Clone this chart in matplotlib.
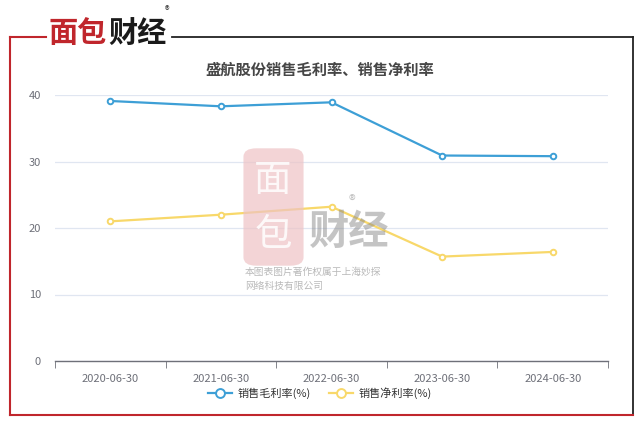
import matplotlib

matplotlib.use("Agg")
import matplotlib.pyplot as plt
from matplotlib.lines import Line2D
from matplotlib.patches import FancyBboxPatch

plt.rcParams["font.family"] = ["Noto Sans CJK SC", "DejaVu Sans"]

TITLE = "盛航股份销售毛利率、销售净利率"
DATES = ["2020-06-30", "2021-06-30", "2022-06-30", "2023-06-30", "2024-06-30"]
GROSS_MARGIN = [39.1, 38.3, 38.9, 30.9, 30.8]
NET_MARGIN = [21.0, 22.0, 23.2, 15.7, 16.4]
SERIES_NAMES = ["销售毛利率(%)", "销售净利率(%)"]
Y_TICKS = [0, 10, 20, 30, 40]

BLUE = "#3d9fd6"
YELLOW = "#f8d86a"
RED = "#c0262c"

W, H = 640, 424


def fx(px):
    return px / W


def fy(py):
    return 1 - py / H


fig = plt.figure(figsize=(6.4, 4.24), dpi=100)
fig.patch.set_facecolor("white")

ax = fig.add_axes([fx(55), fy(361), fx(608) - fx(55), fy(95) - fy(361)])
x = list(range(len(DATES)))
ax.plot(x, GROSS_MARGIN, color=BLUE, lw=1.6, marker="o", ms=4,
        mfc="white", mec=BLUE, mew=1.4, label=SERIES_NAMES[0], zorder=3)
ax.plot(x, NET_MARGIN, color=YELLOW, lw=1.6, marker="o", ms=4,
        mfc="white", mec=YELLOW, mew=1.4, label=SERIES_NAMES[1], zorder=3)

ax.set_xlim(-0.5, len(DATES) - 0.5)
ax.set_ylim(0, 40)
ax.set_yticks(Y_TICKS)
ax.set_xticks(x)
ax.set_xticklabels(DATES)
ax.set_xticks([i - 0.5 for i in range(len(DATES) + 1)], minor=True)
ax.tick_params(axis="x", which="major", length=0, pad=9, labelsize=8, labelcolor="#6e7079")
ax.tick_params(axis="x", which="minor", length=5, color="#6e7079", direction="out")
ax.tick_params(axis="y", length=0, pad=10, labelsize=8, labelcolor="#6e7079")
ax.grid(axis="y", color="#e0e6f1", lw=0.9)
ax.set_axisbelow(True)
for side in ["top", "right", "left"]:
    ax.spines[side].set_visible(False)
ax.spines["bottom"].set_color("#6e7079")
ax.spines["bottom"].set_linewidth(1.0)

leg = ax.legend(loc="center", bbox_to_anchor=(0.5, fy(393)), bbox_transform=fig.transFigure,
                ncol=2, frameon=False, fontsize=8, handlelength=2.2, columnspacing=1.6,
                handletextpad=0.5, labelcolor="#333333", markerscale=1.6)

fig.text(0.5, fy(70), TITLE, ha="center", va="center", fontsize=11,
         fontweight="bold", color="#464646")

# frame around the chart
fig.add_artist(Line2D([fx(10), fx(10)], [fy(37), fy(415)], color=RED, lw=1.5))
fig.add_artist(Line2D([fx(10), fx(46)], [fy(37), fy(37)], color=RED, lw=1.5))
fig.add_artist(Line2D([fx(172), fx(633)], [fy(37), fy(37)], color="#222222", lw=1.3))
fig.add_artist(Line2D([fx(633), fx(633)], [fy(37), fy(415)], color="#222222", lw=1.3))
fig.add_artist(Line2D([fx(10), fx(633)], [fy(415), fy(415)], color=RED, lw=1.5))

# logo
fig.text(fx(48), fy(33), "面包", ha="left", va="center", fontsize=21,
         fontweight="bold", color=RED)
fig.text(fx(108), fy(33), "财经", ha="left", va="center", fontsize=21,
         fontweight="bold", color="#1a1a1a")
fig.text(fx(167), fy(11), "®", ha="center", va="center", fontsize=7, color="#333333")

# watermark
fig.add_artist(FancyBboxPatch((fx(246), fy(264)), fx(55), fy(150) - fy(264),
                              boxstyle="round,pad=0.004,rounding_size=0.02",
                              fc="#eec3c5", ec="none", alpha=0.7, zorder=5))
fig.text(fx(273), fy(180), "面", ha="center", va="center", fontsize=27,
         color="white", alpha=0.85, zorder=6)
fig.text(fx(273), fy(236), "包", ha="center", va="center", fontsize=27,
         color="white", alpha=0.85, zorder=6)
fig.text(fx(349), fy(232), "财经", ha="center", va="center", fontsize=29,
         fontweight="bold", color="#8a8a8a", alpha=0.5, zorder=6)
fig.text(fx(352), fy(202), "®", ha="center", va="center", fontsize=10,
         color="#8a8a8a", alpha=0.5, zorder=6)
fig.text(fx(245), fy(272), "本图表图片著作权属于上海妙探", ha="left", va="center",
         fontsize=7, color="#a8a8a8", alpha=0.8, zorder=6)
fig.text(fx(245), fy(286), "网络科技有限公司", ha="left", va="center",
         fontsize=7, color="#a8a8a8", alpha=0.8, zorder=6)

fig.savefig("out.png", dpi=100)
